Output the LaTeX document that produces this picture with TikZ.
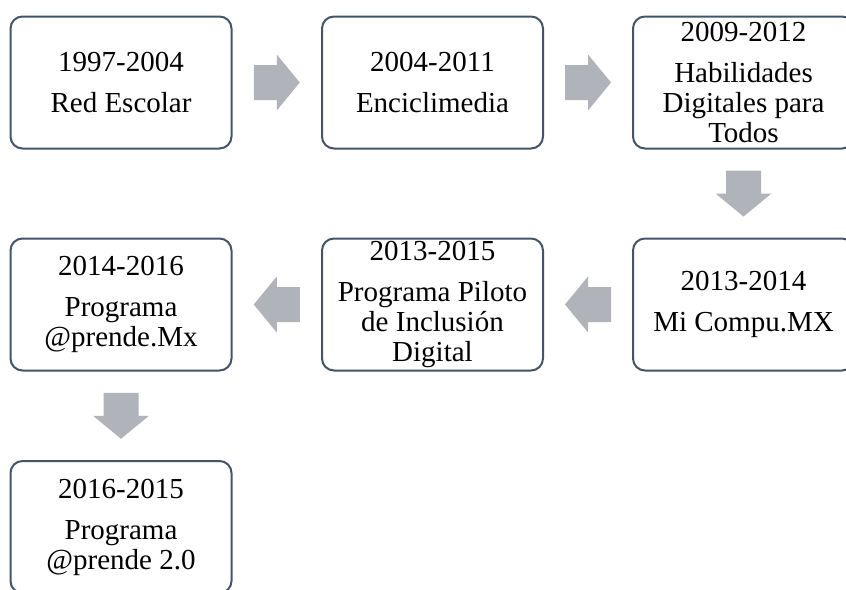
\documentclass[tikz,border=0pt]{standalone}
\usepackage{fontspec}
\setmainfont{Liberation Serif}
\usetikzlibrary{calc}
\definecolor{boxborder}{HTML}{44546A}
\definecolor{arrowgray}{HTML}{B0B3BA}
\tikzset{
  stagebox/.style={draw=boxborder, line width=2pt, fill=white, rounded corners=12pt,
    minimum width=221pt, minimum height=132pt, inner sep=0pt},
  stagetext/.style={align=center, inner sep=0pt, text=black,
    font=\fontsize{29}{30}\selectfont},
  blockarrow/.pic={\fill[arrowgray] (-23,17.5) -- (0,17.5) -- (0,28) -- (23,0) -- (0,-28) -- (0,-17.5) -- (-23,-17.5) -- cycle;}
}
\begin{document}
\begin{tikzpicture}[x=1pt, y=-1pt]
\useasboundingbox (0,0) rectangle (846,589);
\clip (0,0) rectangle (846,589);
% boxes
\node[stagebox] (b1) at (121,82.5) {};
\node[stagebox] (b2) at (432.5,82.5) {};
\node[stagebox] (b3) at (743.5,82.5) {};
\node[stagebox] (b4) at (743.5,304.5) {};
\node[stagebox] (b5) at (432.5,304.5) {};
\node[stagebox] (b6) at (121,304.5) {};
\node[stagebox] (b7) at (121,527) {};
% texts
\node[stagetext] (t1) at (b1.center) {1997-2004\\[11pt]Red Escolar};
\node[stagetext] (t2) at (b2.center) {2004-2011\\[11pt]Enciclimedia};
\node[stagetext] (t3) at (b3.center) {2009-2012\\[11pt]Habilidades\\Digitales para\\Todos};
\node[stagetext] (t4) at (b4.center) {2013-2014\\[11pt]Mi Compu.MX};
\node[stagetext] (t5) at (b5.center) {2013-2015\\[11pt]Programa Piloto\\de Inclusión\\Digital};
\node[stagetext] (t6) at (b6.center) {2014-2016\\[11pt]Programa\\@prende.Mx};
\node[stagetext] (t7) at (b7.center) {2016-2015\\[11pt]Programa\\@prende 2.0};
% block arrows
\coordinate (a12) at ($(b1.east)!0.5!(b2.west)$);
\coordinate (a23) at ($(b2.east)!0.5!(b3.west)$);
\coordinate (a34) at ($(b3.south)!0.5!(b4.north)$);
\coordinate (a45) at ($(b4.west)!0.5!(b5.east)$);
\coordinate (a56) at ($(b5.west)!0.5!(b6.east)$);
\coordinate (a67) at ($(b6.south)!0.5!(b7.north)$);
\pic at (a12) {blockarrow};
\pic at (a23) {blockarrow};
\pic[rotate=-90] at (a34) {blockarrow};
\pic[rotate=180] at (a45) {blockarrow};
\pic[rotate=180] at (a56) {blockarrow};
\pic[rotate=-90] at (a67) {blockarrow};
\end{tikzpicture}
\end{document}
